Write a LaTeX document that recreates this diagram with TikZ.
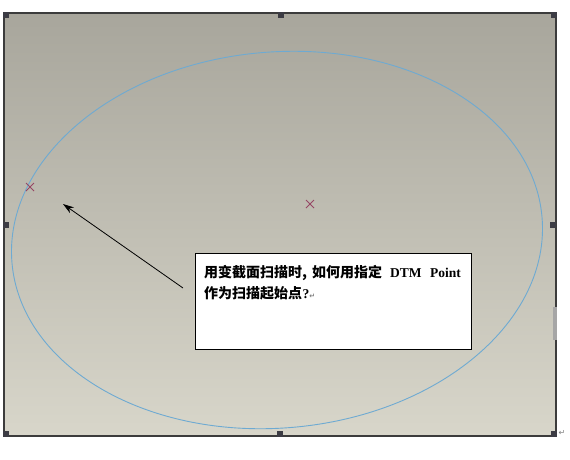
\documentclass[tikz,border=0pt]{standalone}
\usepackage{fontspec}
\setmainfont{Liberation Serif}
\newfontfamily\cjk{Noto Sans CJK SC}
\newfontfamily\sym{DejaVu Sans}
\usetikzlibrary{arrows.meta,calc}
\definecolor{bgtop}{RGB}{168,166,156}
\definecolor{bgbot}{RGB}{216,214,202}
\definecolor{ellblue}{RGB}{110,170,210}
\definecolor{xred}{RGB}{150,70,100}
\definecolor{handle}{RGB}{60,60,68}
\definecolor{frame}{RGB}{60,60,60}
\tikzset{
  hnd/.style={fill=handle,draw=none,minimum size=6pt,inner sep=0pt},
  xmark/.style={draw=xred,line width=0.8pt},
  callout/.style={draw=black,fill=white,line width=0.8pt,minimum width=276pt,minimum height=96pt,inner sep=0pt,anchor=north west},
  cjktxt/.style={anchor=base west,inner sep=0pt,font=\cjk\fontsize{14}{16}\selectfont\bfseries},
  lattxt/.style={anchor=base west,inner sep=0pt,font=\fontsize{13.5}{16}\selectfont\bfseries},
}
\begin{document}
\begin{tikzpicture}[x=1pt,y=-1pt]
\useasboundingbox (0,0) rectangle (570,459);
\fill[white] (0,0) rectangle (570,459);
% background
\shade[top color=bgtop,bottom color=bgbot] (4,13) rectangle (556,436);
\draw[frame,line width=1.5pt] (4,13) rectangle (556,436);
% scroll bar
\fill[gray!70] (553,307) rectangle (557,340);
% ellipse
\draw[ellblue,line width=0.9pt,rotate around={5:(277,240)}] (277,240) ellipse [x radius=266,y radius=188];
% crosses
\coordinate (p1) at (30,187);
\coordinate (p2) at (310,204);
\foreach \p in {p1,p2}{
  \draw[xmark] ($(\p)+(-4,-4)$) -- ($(\p)+(4,4)$);
  \draw[xmark] ($(\p)+(-4,4)$) -- ($(\p)+(4,-4)$);
}
% handles
\node[hnd] (h1) at (6,15) {};
\node[hnd] (h2) at (281,15) {};
\node[hnd] (h3) at (6,225) {};
\node[hnd] (h4) at (553,225) {};
\node[hnd] (h5) at (6,434) {};
\node[hnd] (h6) at (280,434) {};
\node[hnd] (h7) at (554,434) {};
\node[hnd] (h8) at (554,15) {};
% callout
\node[callout] (box) at (195,253) {};
\node[cjktxt] (t1a) at (204,277) {用变截面扫描时,};
\node[cjktxt] (t1b) at (312,277) {如何用指定};
\node[lattxt] (t1c) at (390,277) {DTM};
\node[lattxt] (t1d) at (430,277) {Point};
\node[cjktxt] (t2a) at (204,298) {作为扫描起始点};
\node[lattxt] (t2b) at (t2a.base east) {?{\sym\fontsize{7}{8}\selectfont\color{gray}↵}};
% arrow
\coordinate (tip) at (63,204);
\coordinate (tail) at (183,288);
\draw[-{Stealth[length=11pt,width=7pt]},line width=0.8pt] (tail) -- (tip);
\node[font=\sym\fontsize{8}{9}\selectfont,text=gray,inner sep=0pt] (pm) at (562,433) {↵};
\end{tikzpicture}
\end{document}
